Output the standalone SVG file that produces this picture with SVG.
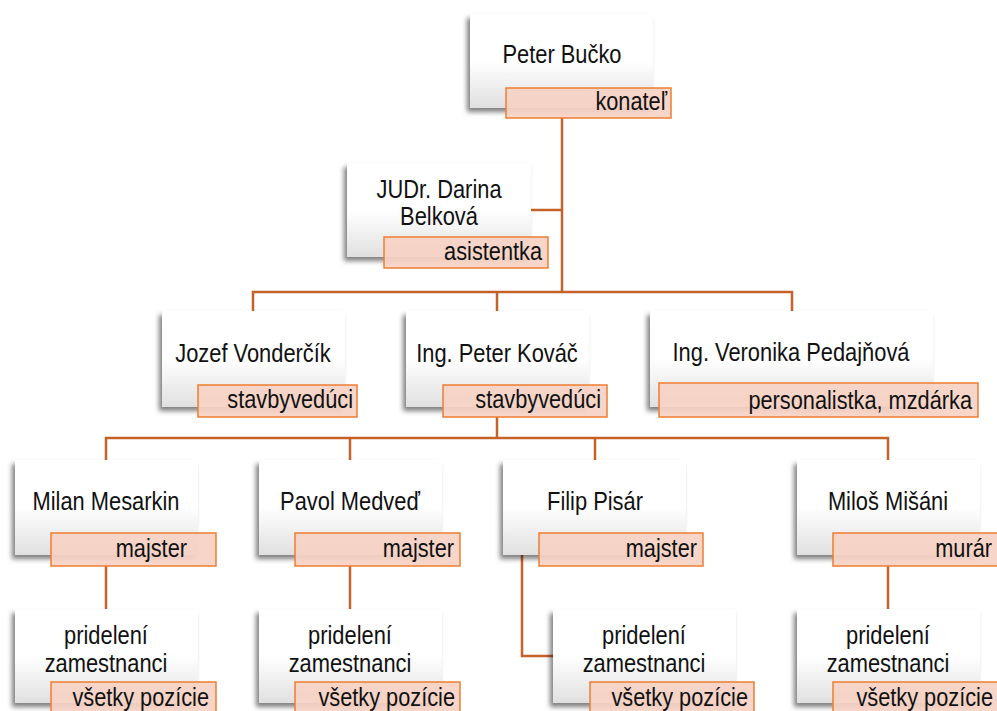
<svg xmlns="http://www.w3.org/2000/svg" width="997" height="711" viewBox="0 0 997 711">
<defs>
<linearGradient id="g" x1="0" y1="0" x2="0" y2="1">
<stop offset="0" stop-color="#ffffff"/>
<stop offset="0.5" stop-color="#ffffff"/>
<stop offset="1" stop-color="#e0e0e0"/>
</linearGradient>
<filter id="sh" x="-20%" y="-20%" width="140%" height="150%">
<feDropShadow dx="-3" dy="4" stdDeviation="2.5" flood-color="#000" flood-opacity="0.5"/>
</filter>
</defs>
<style>
.box{fill:url(#g);filter:url(#sh)}
.lab{fill:#f6d2c4;fill-opacity:0.92;stroke:#ed7d31;stroke-width:1.5}
.t{font-family:"Liberation Sans",Arial,sans-serif;font-size:25px;fill:#111;text-anchor:middle}
.l{font-family:"Liberation Sans",Arial,sans-serif;font-size:25px;fill:#111;text-anchor:end}
.c{fill:none;stroke:#c46228;stroke-width:2.5}
</style>
<rect width="997" height="711" fill="#fff"/>
<g id="connectors" class="c">
<path d="M562 118V292"/>
<path d="M531 210H562"/>
<path d="M253 311V292H792V311"/>
<path d="M497 292V311"/>
<path d="M497 417V438"/>
<path d="M106 460V438H888V460"/>
<path d="M350 438V460"/>
<path d="M595 438V460"/>
<path d="M106 566V609"/>
<path d="M350 566V609"/>
<path d="M888 566V609"/>
<path d="M522 555V656H553"/>
</g>
<g id="n-bucko">
<rect class="box" x="470" y="14" width="183" height="94"/>
<text class="t" transform="translate(562,63) scale(0.875,1)">Peter Bučko</text>
<rect class="lab" x="506" y="88" width="165" height="30"/>
<text class="l" transform="translate(667,110) scale(0.87,1)">konateľ</text>
</g>
<g id="n-belkova">
<rect class="box" x="347" y="163" width="184" height="94"/>
<text class="t" transform="translate(439,198) scale(0.875,1)">JUDr. Darina</text>
<text class="t" transform="translate(439,225) scale(0.875,1)">Belková</text>
<rect class="lab" x="384" y="237" width="164" height="31"/>
<text class="l" transform="translate(542,260) scale(0.87,1)">asistentka</text>
</g>
<g id="n-vondercik">
<rect class="box" x="162" y="311" width="183" height="96"/>
<text class="t" transform="translate(253,362) scale(0.875,1)">Jozef Vonderčík</text>
<rect class="lab" x="198" y="385" width="159" height="32"/>
<text class="l" transform="translate(353,408) scale(0.87,1)">stavbyvedúci</text>
</g>
<g id="n-kovac">
<rect class="box" x="406" y="311" width="183" height="96"/>
<text class="t" transform="translate(497,362) scale(0.875,1)">Ing. Peter Kováč</text>
<rect class="lab" x="443" y="385" width="164" height="32"/>
<text class="l" transform="translate(601,408) scale(0.87,1)">stavbyvedúci</text>
</g>
<g id="n-pedajnova">
<rect class="box" x="650" y="311" width="283" height="96"/>
<text class="t" transform="translate(791,361) scale(0.875,1)">Ing. Veronika Pedajňová</text>
<rect class="lab" x="659" y="383" width="319" height="34"/>
<text class="l" transform="translate(972,409) scale(0.87,1)">personalistka, mzdárka</text>
</g>
<g id="n-mesarkin">
<rect class="box" x="15" y="460" width="183" height="95"/>
<text class="t" transform="translate(106,510) scale(0.875,1)">Milan Mesarkin</text>
<rect class="lab" x="51" y="533" width="165" height="33"/>
<text class="l" transform="translate(187,557) scale(0.87,1)">majster</text>
</g>
<g id="n-medved">
<rect class="box" x="259" y="460" width="183" height="95"/>
<text class="t" transform="translate(350,510) scale(0.875,1)">Pavol Medveď</text>
<rect class="lab" x="295" y="533" width="165" height="33"/>
<text class="l" transform="translate(454,557) scale(0.87,1)">majster</text>
</g>
<g id="n-pisar">
<rect class="box" x="503" y="460" width="183" height="95"/>
<text class="t" transform="translate(595,510) scale(0.875,1)">Filip Pisár</text>
<rect class="lab" x="539" y="533" width="164" height="33"/>
<text class="l" transform="translate(697,557) scale(0.87,1)">majster</text>
</g>
<g id="n-misani">
<rect class="box" x="797" y="460" width="183" height="95"/>
<text class="t" transform="translate(888,510) scale(0.875,1)">Miloš Mišáni</text>
<rect class="lab" x="833" y="533" width="165" height="33"/>
<text class="l" transform="translate(992,557) scale(0.87,1)">murár</text>
</g>
<g id="n-team1">
<rect class="box" x="15" y="609" width="183" height="94"/>
<text class="t" transform="translate(106,644) scale(0.875,1)">pridelení</text>
<text class="t" transform="translate(106,672) scale(0.875,1)">zamestnanci</text>
<rect class="lab" x="51" y="682" width="165" height="33"/>
<text class="l" transform="translate(209,706) scale(0.87,1)">všetky pozície</text>
</g>
<g id="n-team2">
<rect class="box" x="259" y="609" width="183" height="94"/>
<text class="t" transform="translate(350,644) scale(0.875,1)">pridelení</text>
<text class="t" transform="translate(350,672) scale(0.875,1)">zamestnanci</text>
<rect class="lab" x="295" y="682" width="165" height="33"/>
<text class="l" transform="translate(455,706) scale(0.87,1)">všetky pozície</text>
</g>
<g id="n-team3">
<rect class="box" x="553" y="609" width="183" height="94"/>
<text class="t" transform="translate(644,644) scale(0.875,1)">pridelení</text>
<text class="t" transform="translate(644,672) scale(0.875,1)">zamestnanci</text>
<rect class="lab" x="590" y="682" width="164" height="33"/>
<text class="l" transform="translate(748,706) scale(0.87,1)">všetky pozície</text>
</g>
<g id="n-team4">
<rect class="box" x="797" y="609" width="183" height="94"/>
<text class="t" transform="translate(888,644) scale(0.875,1)">pridelení</text>
<text class="t" transform="translate(888,672) scale(0.875,1)">zamestnanci</text>
<rect class="lab" x="833" y="682" width="165" height="33"/>
<text class="l" transform="translate(993,706) scale(0.87,1)">všetky pozície</text>
</g>
</svg>
